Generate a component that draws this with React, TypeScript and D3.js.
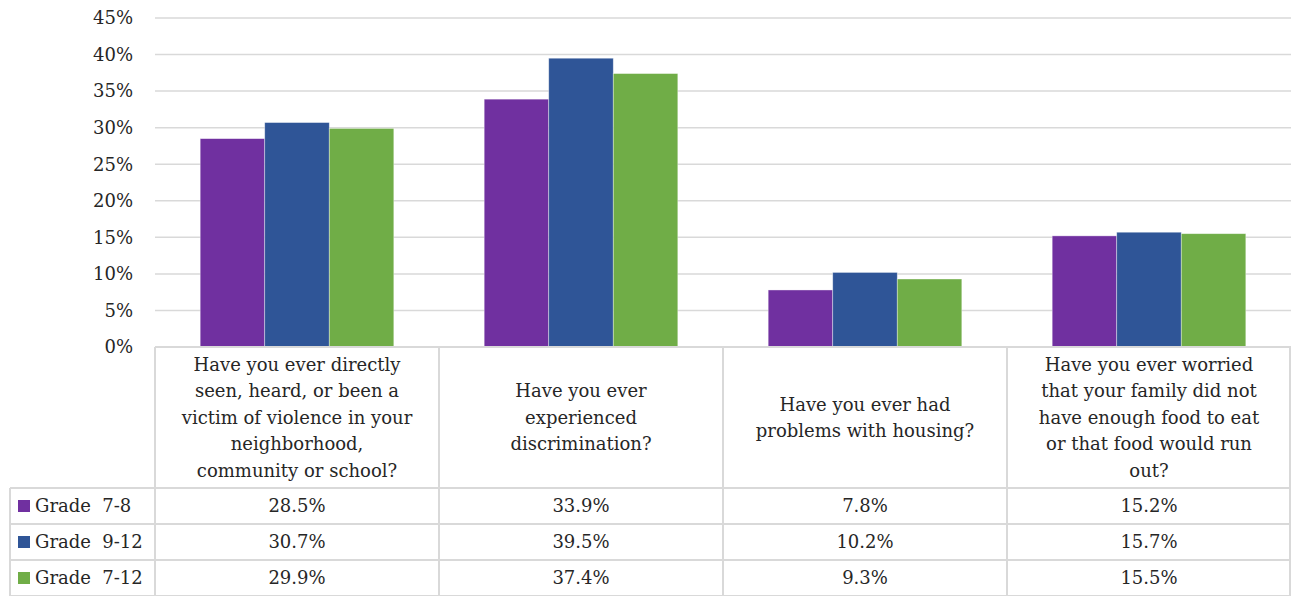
import React from "react";
import * as d3 from "d3";

const categories: string[][] = [
  ["Have you ever directly", "seen, heard, or been a", "victim of violence in your", "neighborhood,", "community or school?"],
  ["Have you ever", "experienced", "discrimination?"],
  ["Have you ever had", "problems with housing?"],
  ["Have you ever worried", "that your family did not", "have enough food to eat", "or that food would run", "out?"],
];
const seriesNames = ["Grade  7-8", "Grade  9-12", "Grade  7-12"];
const seriesColors = ["#7030a0", "#2f5597", "#70ad47"];
const grade78 = [28.5, 33.9, 7.8, 15.2];
const grade912 = [30.7, 39.5, 10.2, 15.7];
const grade712 = [29.9, 37.4, 9.3, 15.5];
const yTicks = [0, 5, 10, 15, 20, 25, 30, 35, 40, 45];

const W = 1291;
const H = 596;
const FONT = '"DejaVu Serif", "Liberation Serif", "Noto Serif", serif';

export default function App() {
  const values = [grade78, grade912, grade712];
  const left = 155;
  const right = 1291;
  const top = 18;
  const bottom = 347;
  const headerBottom = 488;
  const rowH = 36;
  const tableLeft = 10;

  const idx = categories.map((_, i) => String(i));
  const x0 = d3.scaleBand<string>().domain(idx).range([left, right]).paddingInner(0).paddingOuter(0);
  const x1 = d3.scaleBand<string>().domain(seriesNames).range([0, x0.bandwidth()]).paddingInner(0).paddingOuter(0.7);
  const y = d3.scaleLinear().domain([0, 45]).range([bottom, top]);
  const grid = "#d9d9d9";
  const fs = 18;

  return (
    <svg width={W} height={H} style={{ position: "absolute", left: 0, top: 0, fontFamily: FONT }}>
      <rect width={W} height={H} fill="#fff" />
      {yTicks.filter((t) => t > 0).map((t) => (
        <line key={t} x1={left} x2={right} y1={y(t)} y2={y(t)} stroke={grid} strokeWidth={1.5} />
      ))}
      {yTicks.map((t) => (
        <text key={t} x={133} y={y(t)} dy="0.35em" textAnchor="end" fontSize={fs} fill="#262626" style={{ fontFamily: FONT }}>
          {t}%
        </text>
      ))}
      {idx.map((c, ci) =>
        seriesNames.map((s, si) => {
          const v = values[si][ci];
          return (
            <rect
              key={c + s}
              x={(x0(c) ?? 0) + (x1(s) ?? 0)}
              y={y(v)}
              width={x1.bandwidth()}
              height={bottom - y(v)}
              fill={seriesColors[si]}
              stroke="#ffffff"
              strokeOpacity={0.5}
              strokeWidth={0.75}
            />
          );
        })
      )}
      <line x1={left} x2={right} y1={bottom} y2={bottom} stroke={grid} strokeWidth={2} />
      {[0, 1, 2, 3].map((r) => (
        <line key={r} x1={tableLeft} x2={right} y1={headerBottom + r * rowH} y2={headerBottom + r * rowH} stroke={grid} strokeWidth={2} />
      ))}
      <line x1={tableLeft} x2={tableLeft} y1={headerBottom} y2={H} stroke={grid} strokeWidth={2} />
      {idx.map((c) => (
        <line key={c} x1={x0(c) ?? 0} x2={x0(c) ?? 0} y1={bottom} y2={H} stroke={grid} strokeWidth={2} />
      ))}
      <line x1={right - 1} x2={right - 1} y1={bottom} y2={H} stroke={grid} strokeWidth={2} />
      {categories.map((lines, ci) => {
        const cx = (x0(String(ci)) ?? 0) + x0.bandwidth() / 2;
        const cy = (bottom + headerBottom) / 2;
        const lh = 26.5;
        return (
          <text key={ci} x={cx} textAnchor="middle" fontSize={fs} fill="#262626" style={{ fontFamily: FONT }}>
            {lines.map((l, li) => (
              <tspan key={li} x={cx} y={cy + (li - (lines.length - 1) / 2) * lh} dy="0.35em">
                {l}
              </tspan>
            ))}
          </text>
        );
      })}
      {seriesNames.map((s, si) => {
        const cy = headerBottom + si * rowH + rowH / 2;
        return (
          <g key={s}>
            <rect x={18} y={cy - 6} width={12} height={12} fill={seriesColors[si]} />
            <text x={35} y={cy} dy="0.35em" fontSize={fs} fill="#262626" style={{ whiteSpace: "pre", fontFamily: FONT }}>
              {s}
            </text>
            {idx.map((c, ci) => (
              <text key={c} x={(x0(c) ?? 0) + x0.bandwidth() / 2} y={cy} dy="0.35em" textAnchor="middle" fontSize={fs} fill="#262626" style={{ fontFamily: FONT }}>
                {values[si][ci].toFixed(1)}%
              </text>
            ))}
          </g>
        );
      })}
    </svg>
  );
}
